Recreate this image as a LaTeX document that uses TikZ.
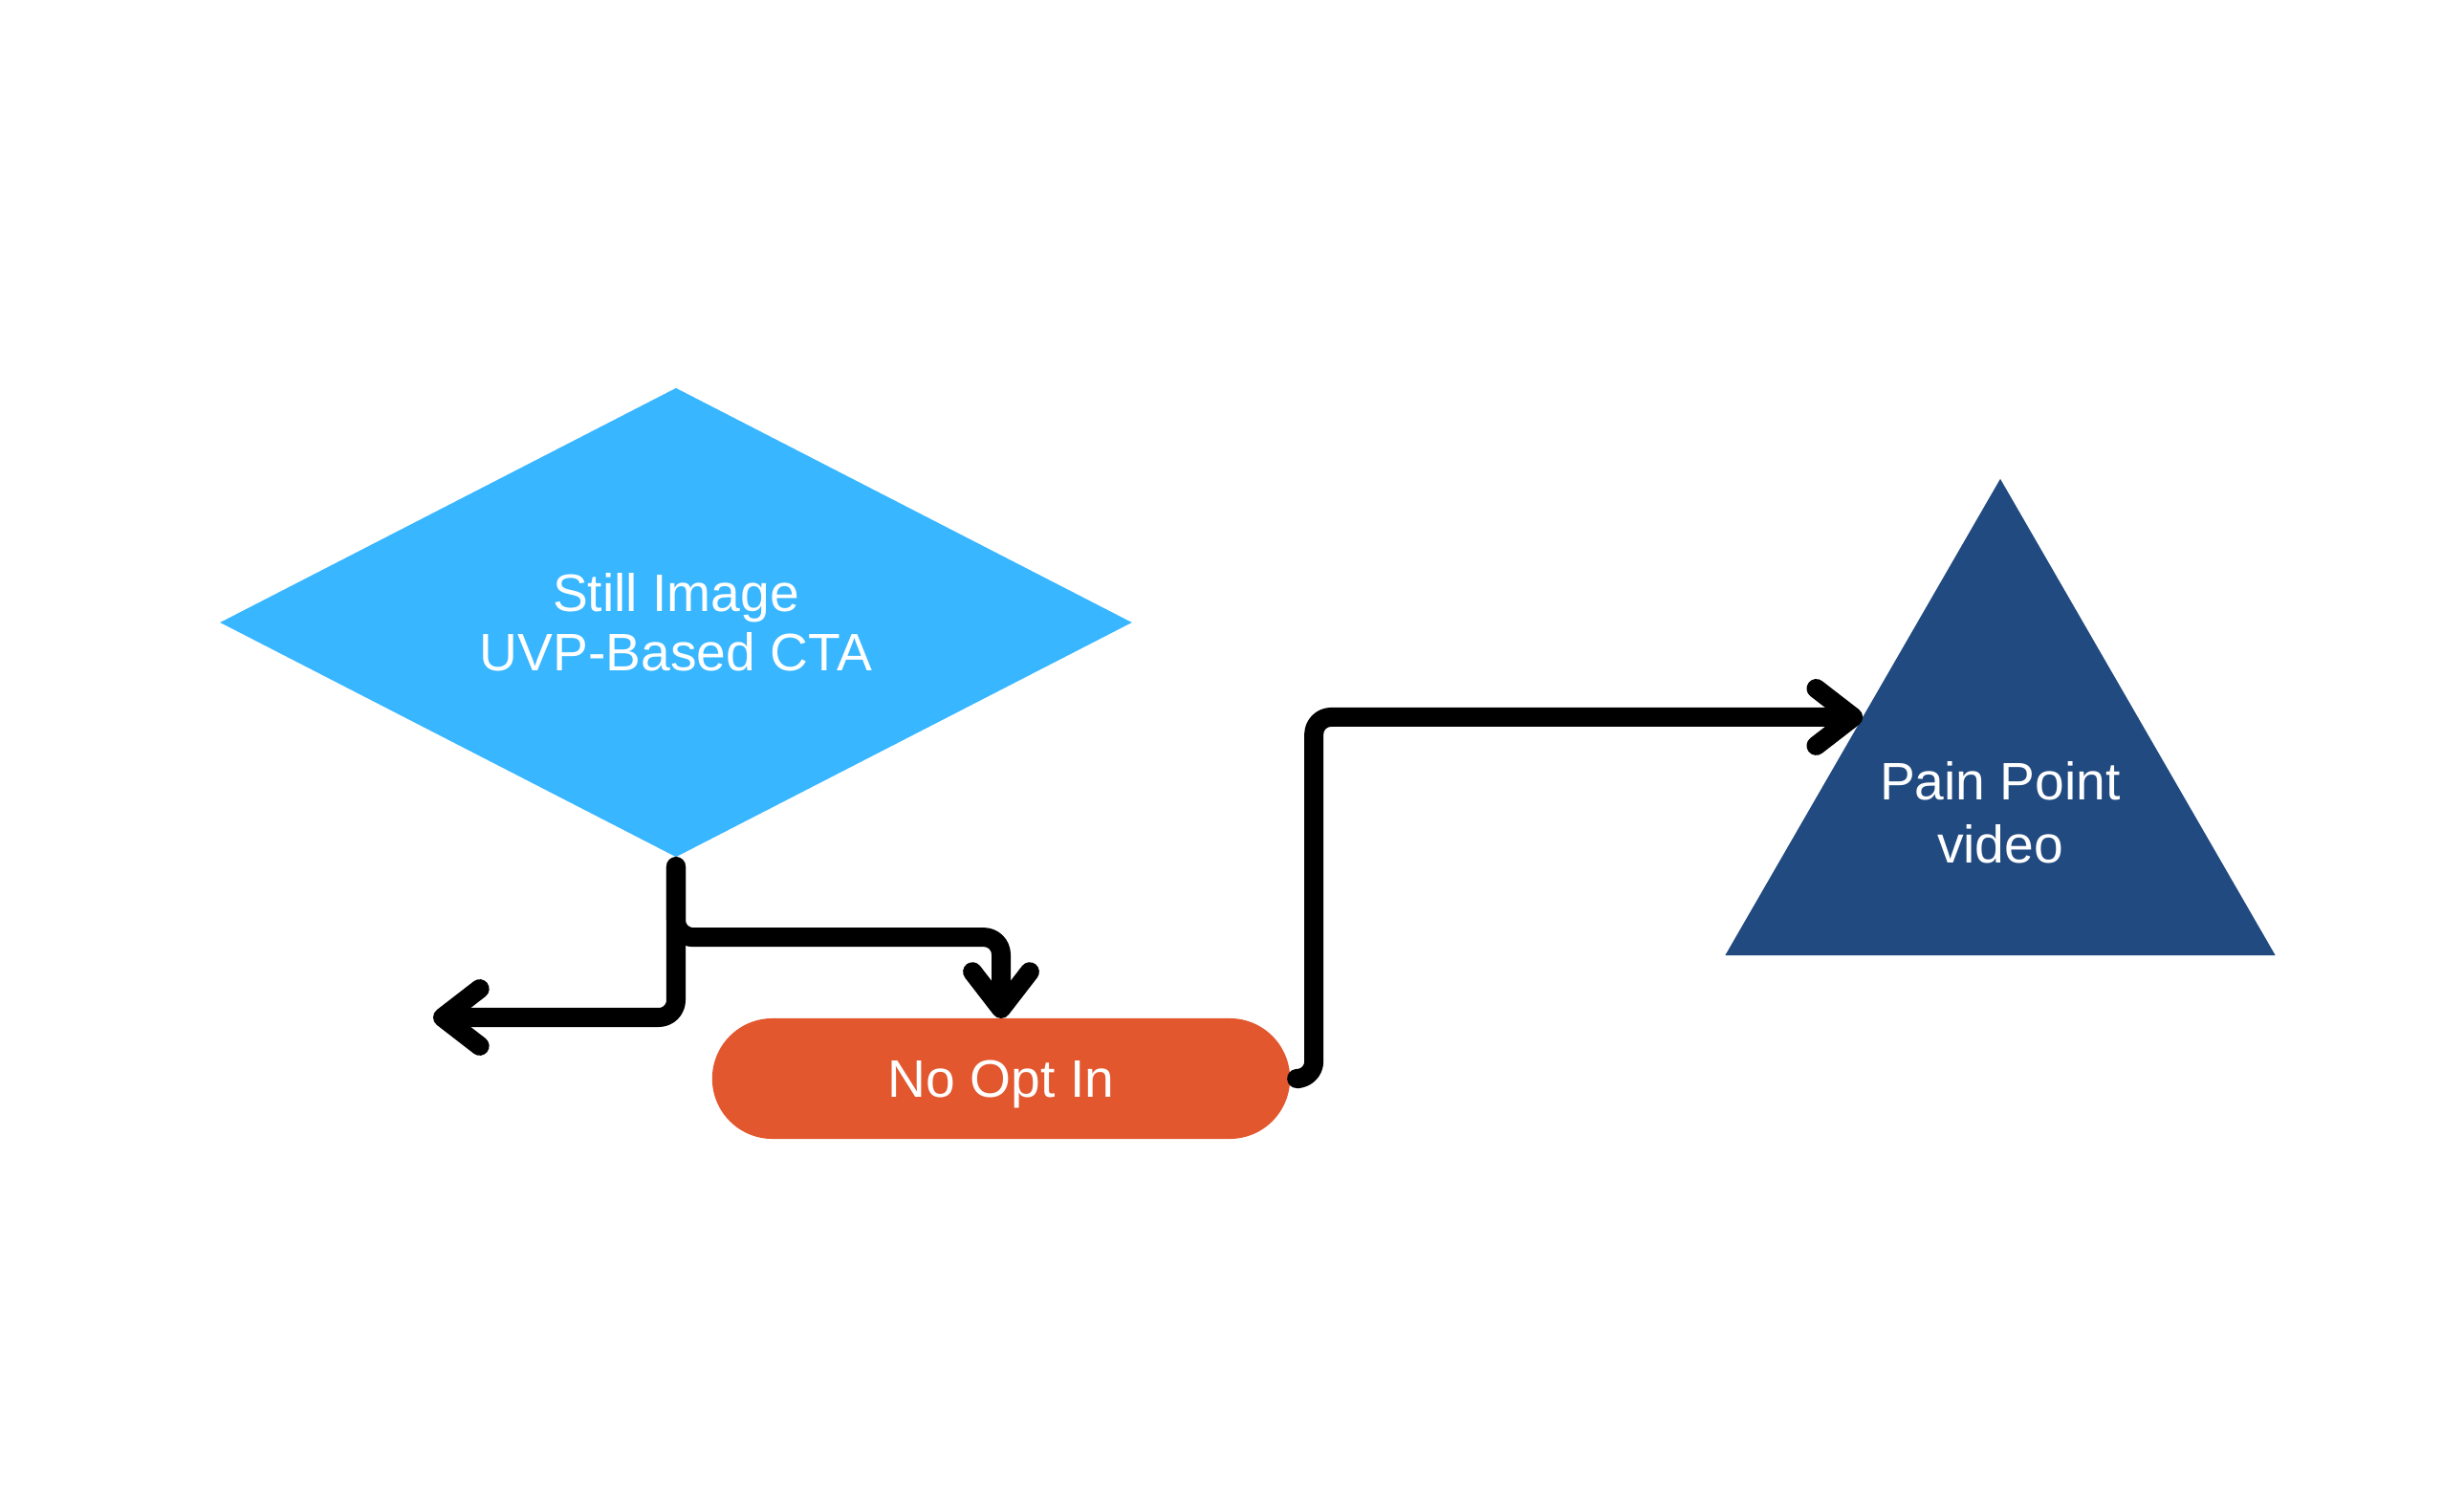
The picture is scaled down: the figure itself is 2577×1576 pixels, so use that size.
\documentclass[tikz,border=0pt]{standalone}
\usepackage{fontspec}
\setmainfont{Liberation Sans}
\usepackage{tikz}
\usetikzlibrary{shapes,positioning,calc}
\usetikzlibrary{shapes.geometric}
\usetikzlibrary{arrows.meta}
\definecolor{skyblue}{HTML}{38B6FF}
\definecolor{rust}{HTML}{E3572F}
\definecolor{navy}{HTML}{214A80}
\tikzstyle{choice} = [diamond, aspect=1.945, fill=skyblue, minimum width=9.53cm, minimum height=4.9cm, inner sep=0pt, outer sep=0pt, text=white, align=center, font=\fontsize{15.7}{17.6}\selectfont]
\tikzstyle{outcome} = [rectangle, rounded corners=0.63cm, fill=rust, minimum width=6.04cm, minimum height=1.26cm, inner sep=0pt, outer sep=0pt, text=white, text depth=0pt, font=\fontsize{15.7}{17.6}\selectfont]
\tikzstyle{target} = [regular polygon, regular polygon sides=3, minimum size=6.64cm, inner sep=0pt, outer sep=0pt, fill=navy]
\tikzstyle{caption} = [text=white, align=center, font=\fontsize{15.7}{18.7}\selectfont]
\tikzstyle{arrow} = [line width=0.2cm, rounded corners=0.18cm, line cap=round, line join=round, -{Straight Barb[length=11pt,width=17pt,round]}, shorten <=0.1cm]

\begin{document}
\begin{tikzpicture}[x=0.01cm, y=-0.01cm]
	\useasboundingbox (0,0) rectangle (2577,1576);
	\node (still) at (707,651) [choice] {Still Image\\UVP-Based CTA};
	\node (noopt) at (1047,1128) [outcome] {No Opt In};
	\node (pain) at (2092,833) [target] {};
	\node (painlbl) at (2092,850) [caption] {Pain Point\\video};
	\coordinate (back) at (453,1064);
	\draw[arrow] (still.south) |- (back);
	\draw[arrow] (still.south) -- ++(0,84) -| (noopt.north);
	\draw[arrow] (noopt.east) -- ++(25,0) |- (pain.side 1);
\end{tikzpicture}
\end{document}
